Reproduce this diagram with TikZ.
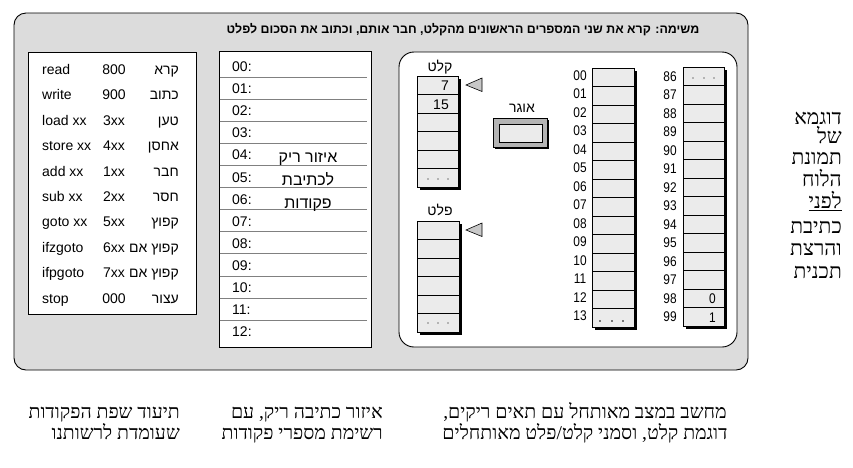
\documentclass[tikz,border=0pt]{standalone}
\usepackage{fontspec}
\setmainfont{Liberation Sans}
\newfontfamily\heb[Script=Hebrew]{Liberation Sans}
\newfontfamily\hebbold[Script=Hebrew]{Liberation Sans Bold}
\newfontfamily\hebserif[Script=Hebrew]{Liberation Serif}
\newfontfamily\condsans[FakeStretch=0.85]{Liberation Sans}
\TeXXeTstate=1
\usetikzlibrary{shadows}
\definecolor{boardgray}{RGB}{220,220,220}
\definecolor{cellgray}{RGB}{235,235,235}
\definecolor{trigray}{RGB}{200,200,200}
\definecolor{accgray}{RGB}{180,180,180}
\definecolor{linegray}{RGB}{128,128,128}
\tikzset{
  box/.style={draw=black, line width=0.9pt, inner sep=0pt},
  tape/.style={draw=black, line width=0.8pt, fill=cellgray, inner sep=0pt,
    drop shadow={shadow xshift=3pt, shadow yshift=-3pt, fill=black, opacity=1}},
  txt/.style={inner sep=0pt, font=\fontsize{14}{16}\selectfont},
  htxt/.style={inner sep=0pt, font=\heb\fontsize{14}{16}\selectfont},
  bightxt/.style={inner sep=0pt, font=\heb\fontsize{16}{18}\selectfont},
  stxt/.style={inner sep=0pt, font=\hebserif\fontsize{21}{23}\selectfont},
  btxt/.style={inner sep=0pt, font=\hebserif\fontsize{19.5}{21}\selectfont},
  memtxt/.style={inner sep=0pt, font=\condsans\fontsize{14}{16}\selectfont},
  pointer/.style={draw=black, line width=0.6pt, fill=trigray},
  dot/.style={fill=black},
}
\begin{document}
\begin{tikzpicture}[x=1pt,y=-1pt]
\useasboundingbox (0,0) rectangle (853,467);
\fill[white] (0,0) rectangle (853,467);

% board
\node[box, fill=boardgray, rounded corners=12pt, minimum width=734pt, minimum height=357pt] (board) at (381,191.5) {};
\node[inner sep=0pt, font=\hebbold\fontsize{12.4}{15}\selectfont] (title) at (463,30)
  {\beginR משימה: קרא את שני המספרים הראשונים מהקלט, חבר אותם, וכתוב את הסכום לפלט\endR};

% command table
\node[box, fill=white, minimum width=168pt, minimum height=262pt] (cmds) at (112,183) {};
\foreach \en/\op/\he [count=\i from 0] in {read/800/קרא, write/900/כתוב, load xx/3xx/טען, store xx/4xx/אחסן, add xx/1xx/חבר, sub xx/2xx/חסר, goto xx/5xx/קפוץ, ifzgoto/6xx/קפוץ אם, ifpgoto/7xx/קפוץ אם, stop/000/עצור}{
  \node[txt, anchor=base west] (en\i) at (42,{74.5+25.4*\i}) {\en};
  \node[txt, anchor=base] (op\i) at (114,{74.5+25.4*\i}) {\op};
  \node[htxt, anchor=base east] (he\i) at (179,{74.5+25.4*\i}) {\beginR\he\endR};
}

% program area
\node[box, fill=white, minimum width=152pt, minimum height=296pt] (prog) at (295,199) {};
\foreach \k in {0,...,11}{
  \draw[linegray, line width=0.8pt] (219.5,{77+22.1*\k}) -- (367,{77+22.1*\k});
}
\foreach \lab [count=\i from 0] in {00,01,02,03,04,05,06,07,08,09,10,11,12}{
  \node[txt, anchor=base west] (pl\i) at (232,{71.5+22.1*\i}) {\lab:};
}
\node[bightxt, anchor=base] (empty1) at (308,162) {\beginR איזור ריק\endR};
\node[bightxt, anchor=base] (empty2) at (308,185) {\beginR לכתיבת\endR};
\node[bightxt, anchor=base] (empty3) at (308,208) {\beginR פקודות\endR};

% machine
\node[box, fill=white, rounded corners=15pt, minimum width=338pt, minimum height=295pt] (machine) at (568,199.5) {};

% input tape
\node[htxt, anchor=base] (inlabel) at (440,71) {\beginR קלט\endR};
\node[tape, minimum width=41pt, minimum height=111pt] (intape) at (437.5,131.5) {};
\foreach \k in {1,...,5}{ \draw[line width=0.8pt] (417,{76+18.5*\k}) -- (458,{76+18.5*\k}); }
\node[txt, anchor=base east] (in1) at (449,90) {7};
\node[txt, anchor=base east] (in2) at (449,109) {15};
\foreach \x in {428,438,448}{ \fill[dot] (\x,179) circle (0.7); }
\draw[pointer] (482,78) -- (466,85) -- (482,91.5) -- cycle;

% output tape
\node[htxt, anchor=base] (outlabel) at (440,215) {\beginR פלט\endR};
\node[tape, minimum width=42pt, minimum height=111pt] (outtape) at (438,276.5) {};
\foreach \k in {1,...,5}{ \draw[line width=0.8pt] (417,{221+18.5*\k}) -- (459,{221+18.5*\k}); }
\foreach \x in {428,438,448}{ \fill[dot] (\x,323) circle (0.7); }
\draw[pointer] (482,223) -- (466,230) -- (482,236.5) -- cycle;

% accumulator
\node[htxt, anchor=base] (acclabel) at (522,112) {\beginR אוגר\endR};
\node[draw=black, line width=0.8pt, fill=accgray, inner sep=0pt, minimum width=54pt, minimum height=29pt,
  drop shadow={shadow xshift=2pt, shadow yshift=-2pt, fill=black, opacity=1}] (acc) at (520,132.5) {};
\node[draw=black, line width=0.8pt, fill=cellgray, inner sep=0pt, minimum width=43pt, minimum height=18pt] (accin) at (520.5,133) {};

% memory column 1
\node[tape, minimum width=42pt, minimum height=259pt] (mem1) at (613,197.5) {};
\foreach \k in {1,...,12}{ \draw[line width=0.8pt] (592,{68+18.5*\k}) -- (634,{68+18.5*\k}); }
\draw[line width=1.6pt] (592,308.5) -- (634,308.5);
\foreach \lab [count=\i from 0] in {00,01,02,03,04,05,06,07,08,09,10,11,12,13}{
  \node[memtxt, anchor=base] (ma\i) at (580,{80+18.5*\i}) {\lab};
}
\foreach \x in {600,612,623}{ \fill[dot] (\x,321) circle (0.8); }

% memory column 2
\node[tape, minimum width=41pt, minimum height=259pt] (mem2) at (703.5,196.5) {};
\foreach \k in {1,...,13}{ \draw[line width=0.8pt] (683,{67+18.5*\k}) -- (724,{67+18.5*\k}); }
\foreach \lab [count=\i from 0] in {86,87,88,89,90,91,92,93,94,95,96,97,98,99}{
  \node[memtxt, anchor=base] (mb\i) at (670,{81+18.5*\i}) {\lab};
}
\foreach \x in {693,704,714}{ \fill[dot] (\x,78) circle (0.6); }
\node[memtxt, anchor=base east] (v98) at (716,303) {0};
\node[memtxt, anchor=base east] (v99) at (716,322) {1};

% side caption
\foreach \w/\yy [count=\i] in {דוגמא/124, של/143, תמונת/164, הלוח/186, {\underline{לפני}}/208, כתיבת/233, והרצת/255, תכנית/278}{
  \node[stxt, anchor=base east] (side\i) at (842,\yy) {\beginR\w\endR};
}

% bottom captions
\node[btxt, anchor=base east] (bl1) at (180,418) {\beginR תיעוד שפת הפקודות\endR};
\node[btxt, anchor=base east] (bl2) at (180,439) {\beginR שעומדת לרשותנו\endR};
\node[btxt, anchor=base east] (bm1) at (383,418) {\beginR איזור כתיבה ריק, עם\endR};
\node[btxt, anchor=base east] (bm2) at (383,439) {\beginR רשימת מספרי פקודות\endR};
\node[btxt, anchor=base] (br1) at (585,418) {\beginR מחשב במצב מאותחל עם תאים ריקים,\endR};
\node[btxt, anchor=base] (br2) at (585,439) {\beginR דוגמת קלט, וסמני קלט/פלט מאותחלים\endR};
\end{tikzpicture}
\end{document}
